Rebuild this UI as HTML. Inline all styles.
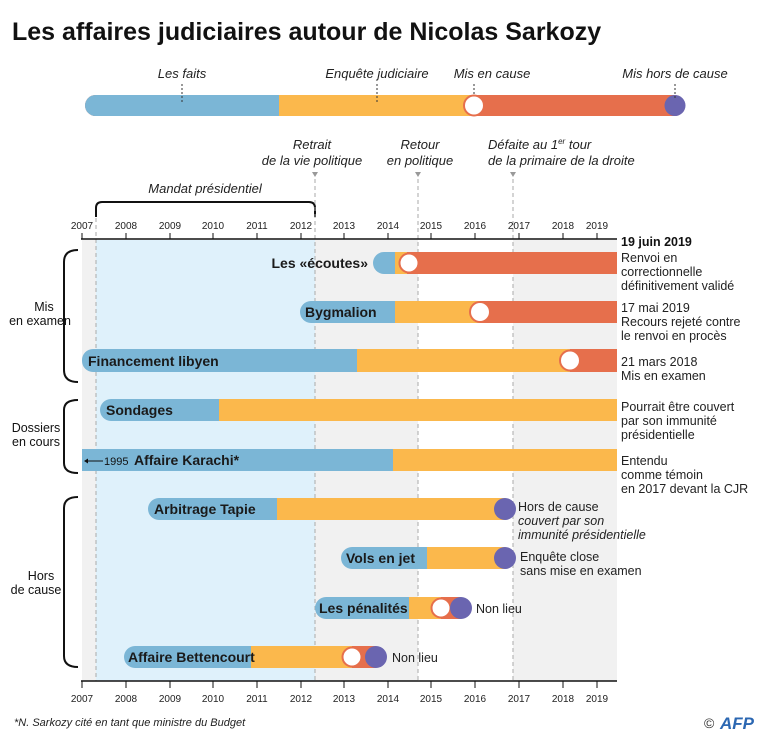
<!DOCTYPE html>
<html><head><meta charset="utf-8"><style>
body{margin:0;background:#fff}
svg{display:block;font-family:"Liberation Sans",sans-serif}
.i{font-style:italic;font-size:13px;fill:#222}
.t{font-size:10px;fill:#222;text-anchor:middle}
.b{font-weight:bold;font-size:14px;fill:#1a1a1a}
.n{font-size:12.5px;fill:#222}
</style></head><body>
<svg width="768" height="739" viewBox="0 0 768 739">
<text x="12" y="40" font-size="25" font-weight="bold" fill="#111">Les affaires judiciaires autour de Nicolas Sarkozy</text>
<!-- top legend -->
<rect x="85" y="95" width="600" height="21" rx="10.5" fill="#e66f4c"/>
<path d="M95.5 95H279V116H95.5A10.5 10.5 0 0 1 95.5 95Z" fill="#7bb6d6"/>
<rect x="279" y="95" width="194" height="21" fill="#fbb84c"/>
<circle cx="474" cy="105.5" r="10" fill="#fff" stroke="#e66f4c" stroke-width="2"/>
<circle cx="675" cy="105.5" r="10.5" fill="#6a65b0"/>
<g stroke="#333" stroke-dasharray="2 2"><line x1="182" y1="84" x2="182" y2="102"/><line x1="377" y1="84" x2="377" y2="102"/><line x1="474" y1="84" x2="474" y2="96"/><line x1="675" y1="84" x2="675" y2="98"/></g>
<text class="i" x="182" y="78" text-anchor="middle">Les faits</text>
<text class="i" x="377" y="78" text-anchor="middle">Enquête judiciaire</text>
<text class="i" x="492" y="78" text-anchor="middle">Mis en cause</text>
<text class="i" x="675" y="78" text-anchor="middle">Mis hors de cause</text>
<!-- event labels -->
<text class="i" x="312" y="149" text-anchor="middle">Retrait</text>
<text class="i" x="312" y="165" text-anchor="middle">de la vie politique</text>
<text class="i" x="420" y="149" text-anchor="middle">Retour</text>
<text class="i" x="420" y="165" text-anchor="middle">en politique</text>
<text class="i" x="488" y="149">Défaite au 1<tspan font-size="8" dy="-5">er</tspan><tspan dy="5"> tour</tspan></text>
<text class="i" x="488" y="165">de la primaire de la droite</text>
<text class="i" x="205" y="193" text-anchor="middle">Mandat présidentiel</text>
<path d="M96 217V208Q96 202 102 202H309Q315 202 315 208V217" fill="none" stroke="#111" stroke-width="2"/>
<!-- plot bg -->
<rect x="82" y="240" width="535" height="441" fill="#f1f1f1"/>
<rect x="96" y="240" width="219" height="441" fill="#dff1fb"/>
<rect x="418" y="240" width="95" height="441" fill="#fff"/>
<g stroke="#aaa" stroke-dasharray="4 3"><line x1="96" y1="218" x2="96" y2="681"/><line x1="315" y1="172" x2="315" y2="681"/><line x1="418" y1="172" x2="418" y2="681"/><line x1="513" y1="172" x2="513" y2="681"/></g>
<g fill="#999"><path d="M312 172h6l-3 5z"/><path d="M415 172h6l-3 5z"/><path d="M510 172h6l-3 5z"/></g>
<!-- axes -->
<g stroke="#111" stroke-width="1.5"><line x1="81" y1="239" x2="617" y2="239"/><line x1="81" y1="681" x2="617" y2="681"/></g>
<g stroke="#111"><path d="M82 233v6M126 233v6M170 233v6M213 233v6M257 233v6M301 233v6M344 233v6M388 233v6M431 233v6M475 233v6M519 233v6M563 233v6M597 233v6"/><path d="M82 681v7M126 681v7M170 681v7M213 681v7M257 681v7M301 681v7M344 681v7M388 681v7M431 681v7M475 681v7M519 681v7M563 681v7M597 681v7"/></g>
<g class="t"><text x="82" y="229">2007</text><text x="126" y="229">2008</text><text x="170" y="229">2009</text><text x="213" y="229">2010</text><text x="257" y="229">2011</text><text x="301" y="229">2012</text><text x="344" y="229">2013</text><text x="388" y="229">2014</text><text x="431" y="229">2015</text><text x="475" y="229">2016</text><text x="519" y="229">2017</text><text x="563" y="229">2018</text><text x="597" y="229">2019</text>
<text x="82" y="702">2007</text><text x="126" y="702">2008</text><text x="170" y="702">2009</text><text x="213" y="702">2010</text><text x="257" y="702">2011</text><text x="301" y="702">2012</text><text x="344" y="702">2013</text><text x="388" y="702">2014</text><text x="431" y="702">2015</text><text x="475" y="702">2016</text><text x="519" y="702">2017</text><text x="563" y="702">2018</text><text x="597" y="702">2019</text></g>
<!-- rows -->
<!-- écoutes -->
<rect x="373" y="252" width="244" height="22" rx="11" fill="#7bb6d6"/><rect x="395" y="252" width="222" height="22" fill="#e66f4c"/><rect x="395" y="252" width="12" height="22" fill="#fbb84c"/>
<circle cx="409" cy="263" r="9.5" fill="#fff" stroke="#e66f4c" stroke-width="2"/>
<text class="b" x="368" y="268" text-anchor="end">Les «écoutes»</text>
<!-- Bygmalion -->
<rect x="300" y="301" width="317" height="22" rx="11" fill="#7bb6d6"/><rect x="395" y="301" width="222" height="22" fill="#e66f4c"/><rect x="395" y="301" width="85" height="22" fill="#fbb84c"/>
<circle cx="480" cy="312" r="10" fill="#fff" stroke="#e66f4c" stroke-width="2"/>
<text class="b" x="305" y="317">Bygmalion</text>
<!-- libyen -->
<rect x="82" y="349" width="535" height="23" rx="11" fill="#7bb6d6"/><rect x="357" y="349" width="260" height="23" fill="#e66f4c"/><rect x="357" y="349" width="213" height="23" fill="#fbb84c"/>
<circle cx="570" cy="360.5" r="10" fill="#fff" stroke="#e66f4c" stroke-width="2"/>
<text class="b" x="88" y="366">Financement libyen</text>
<!-- Sondages -->
<rect x="100" y="399" width="517" height="22" rx="11" fill="#7bb6d6"/><rect x="219" y="399" width="398" height="22" fill="#fbb84c"/>
<text class="b" x="106" y="415">Sondages</text>
<!-- Karachi -->
<rect x="82" y="449" width="535" height="22" fill="#7bb6d6"/><rect x="393" y="449" width="224" height="22" fill="#fbb84c"/>
<line x1="86" y1="461" x2="103" y2="461" stroke="#111"/><path d="M84 461l4-2.5v5z" fill="#111"/>
<text x="104" y="465" font-size="11" fill="#111">1995</text>
<text class="b" x="134" y="465">Affaire Karachi*</text>
<!-- Tapie -->
<rect x="148" y="498" width="357" height="22" rx="11" fill="#7bb6d6"/><rect x="277" y="498" width="228" height="22" fill="#fbb84c"/>
<circle cx="505" cy="509" r="11" fill="#6a65b0"/>
<text class="b" x="154" y="514">Arbitrage Tapie</text>
<!-- Vols -->
<rect x="341" y="547" width="164" height="22" rx="11" fill="#7bb6d6"/><rect x="427" y="547" width="78" height="22" fill="#fbb84c"/>
<circle cx="505" cy="558" r="11" fill="#6a65b0"/>
<text class="b" x="346" y="563">Vols en jet</text>
<!-- pénalités -->
<rect x="315" y="597" width="146" height="22" rx="11" fill="#7bb6d6"/><rect x="409" y="597" width="52" height="22" fill="#e66f4c"/><rect x="409" y="597" width="32" height="22" fill="#fbb84c"/>
<circle cx="441" cy="608" r="9.5" fill="#fff" stroke="#e66f4c" stroke-width="2"/>
<circle cx="461" cy="608" r="11" fill="#6a65b0"/>
<text class="b" x="319" y="613">Les pénalités</text>
<!-- Bettencourt -->
<rect x="124" y="646" width="252" height="22" rx="11" fill="#7bb6d6"/><rect x="251" y="646" width="125" height="22" fill="#e66f4c"/><rect x="251" y="646" width="101" height="22" fill="#fbb84c"/>
<circle cx="352" cy="657" r="9.5" fill="#fff" stroke="#e66f4c" stroke-width="2"/>
<circle cx="376" cy="657" r="11" fill="#6a65b0"/>
<text class="b" x="128" y="662">Affaire Bettencourt</text>
<!-- right notes -->
<text x="621" y="246" font-size="12.5" font-weight="bold" fill="#111">19 juin 2019</text>
<g class="n"><text x="621" y="262">Renvoi en</text><text x="621" y="276">correctionnelle</text><text x="621" y="290">définitivement validé</text>
<text x="621" y="312">17 mai 2019</text><text x="621" y="326">Recours rejeté contre</text><text x="621" y="340">le renvoi en procès</text>
<text x="621" y="366">21 mars 2018</text><text x="621" y="380">Mis en examen</text>
<text x="621" y="411">Pourrait être couvert</text><text x="621" y="425">par son immunité</text><text x="621" y="439">présidentielle</text>
<text x="621" y="465">Entendu</text><text x="621" y="479">comme témoin</text><text x="621" y="493">en 2017 devant la CJR</text>
<text x="518" y="511">Hors de cause</text><text x="518" y="525" font-style="italic">couvert par son</text><text x="518" y="539" font-style="italic">immunité présidentielle</text>
<text x="520" y="561">Enquête close</text><text x="520" y="575">sans mise en examen</text>
<text x="476" y="613">Non lieu</text><text x="392" y="662">Non lieu</text></g>
<!-- brackets -->
<g fill="none" stroke="#111" stroke-width="2"><path d="M78 250Q64 250 64 262V370Q64 382 78 382"/><path d="M78 400Q64 400 64 410V463Q64 473 78 473"/><path d="M78 497Q64 497 64 508V656Q64 667 78 667"/></g>
<g font-size="12.5" fill="#111" text-anchor="middle"><text x="44" y="311">Mis</text><text x="40" y="325">en examen</text>
<text x="36" y="432">Dossiers</text><text x="36" y="446">en cours</text>
<text x="41" y="580">Hors</text><text x="36" y="594">de cause</text></g>
<text x="14" y="726" font-size="11" font-style="italic" fill="#222">*N. Sarkozy cité en tant que ministre du Budget</text>
<text x="704" y="728" font-size="14" fill="#333">©</text>
<text x="720" y="729" font-size="17" font-weight="bold" font-style="italic" fill="#2b67b2">AFP</text>
</svg>
</body></html>
